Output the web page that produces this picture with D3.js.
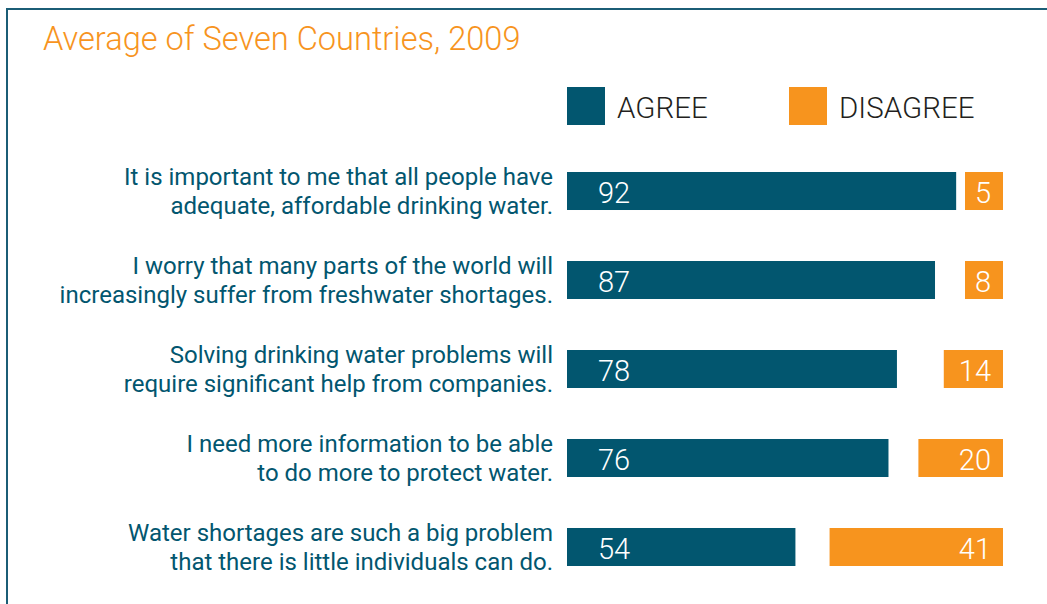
<!DOCTYPE html>
<html>
<head>
<meta charset="utf-8">
<script src="https://cdn.jsdelivr.net/npm/d3@7"></script>
<style>
    body { margin: 0; background: #fff; }
    text { font-family: Roboto, "Open Sans", sans-serif; }
</style>
</head>
<body>
<div id="chart"></div>
<script>
// data
var statements = [
    ["It is important to me that all people have", "adequate, affordable drinking water."],
    ["I worry that many parts of the world will", "increasingly suffer from freshwater shortages."],
    ["Solving drinking water problems will", "require significant help from companies."],
    ["I need more information to be able", "to do more to protect water."],
    ["Water shortages are such a big problem", "that there is little individuals can do."]
];
var agree = [92, 87, 78, 76, 54];
var disagree = [5, 8, 14, 20, 41];
var seriesNames = ["AGREE", "DISAGREE"];

var teal = "#02566f",
    orange = "#f7941e";

var width = 1047,
    height = 604;

var svg = d3.select("#chart")
    .append("svg")
    .attr("width", width)
    .attr("height", height);

// frame lines (top + left)
svg.append("path")
    .attr("d", "M7,604 V9 H1047")
    .attr("fill", "none")
    .attr("stroke", "#1b5d76")
    .attr("stroke-width", 2);

// title
svg.append("text")
    .attr("x", 43)
    .attr("y", 50)
    .style("font-size", "32.6px")
    .style("font-weight", 300)
    .style("fill", orange)
    .text("Average of Seven Countries, 2009");

// legend
var legendX = [567, 789];
seriesNames.forEach(function (name, i) {
    svg.append("rect")
        .attr("x", legendX[i])
        .attr("y", 87)
        .attr("width", 38)
        .attr("height", 38)
        .attr("fill", i == 0 ? teal : orange);
    svg.append("text")
        .attr("x", legendX[i] + 50)
        .attr("y", 118)
        .style("font-size", "29.5px")
        .style("font-weight", 300)
        .style("fill", "#231f20")
        .text(name);
});

// scales
var idx = d3.range(statements.length);
var y = d3.scaleBand()
    .domain(idx)
    .range([172, 566])
    .paddingInner(0.573)
    .paddingOuter(0);

var x = d3.scaleLinear()
    .domain([0, 100])
    .range([567, 990]);

var xEnd = 1003,
    minW = 38;

// agree bars
svg.selectAll("rect.agree")
    .data(idx)
    .enter()
    .append("rect")
    .attr("class", "agree")
    .attr("x", x(0))
    .attr("y", function (i) { return y(i); })
    .attr("width", function (i) { return x(agree[i]) - x(0); })
    .attr("height", y.bandwidth())
    .attr("fill", teal);

svg.selectAll("text.agreeVal")
    .data(idx)
    .enter()
    .append("text")
    .attr("class", "agreeVal")
    .attr("x", x(0) + 31)
    .attr("y", function (i) { return y(i) + 31; })
    .style("font-size", "29px")
    .style("font-weight", 300)
    .style("fill", "#fff")
    .text(function (i) { return agree[i]; });

// disagree bars, right aligned
function dw(i) { return Math.max(x(disagree[i]) - x(0), minW); }

svg.selectAll("rect.disagree")
    .data(idx)
    .enter()
    .append("rect")
    .attr("class", "disagree")
    .attr("x", function (i) { return xEnd - dw(i); })
    .attr("y", function (i) { return y(i); })
    .attr("width", dw)
    .attr("height", y.bandwidth())
    .attr("fill", orange);

svg.selectAll("text.disVal")
    .data(idx)
    .enter()
    .append("text")
    .attr("class", "disVal")
    .attr("text-anchor", "end")
    .attr("x", xEnd - 12)
    .attr("y", function (i) { return y(i) + 31; })
    .style("font-size", "29px")
    .style("font-weight", 300)
    .style("fill", "#fff")
    .text(function (i) { return disagree[i]; });

// category labels
var lab = svg.selectAll("text.cat")
    .data(idx)
    .enter()
    .append("text")
    .attr("class", "cat")
    .attr("text-anchor", "end")
    .style("font-size", "24px")
    .style("fill", teal);

lab.selectAll("tspan")
    .data(function (i) { return statements[i].map(function (s, k) { return { s: s, k: k, i: i }; }); })
    .enter()
    .append("tspan")
    .attr("x", 553)
    .attr("y", function (d) { return y(d.i) + 13 + d.k * 29; })
    .text(function (d) { return d.s; });
</script>
</body>
</html>
